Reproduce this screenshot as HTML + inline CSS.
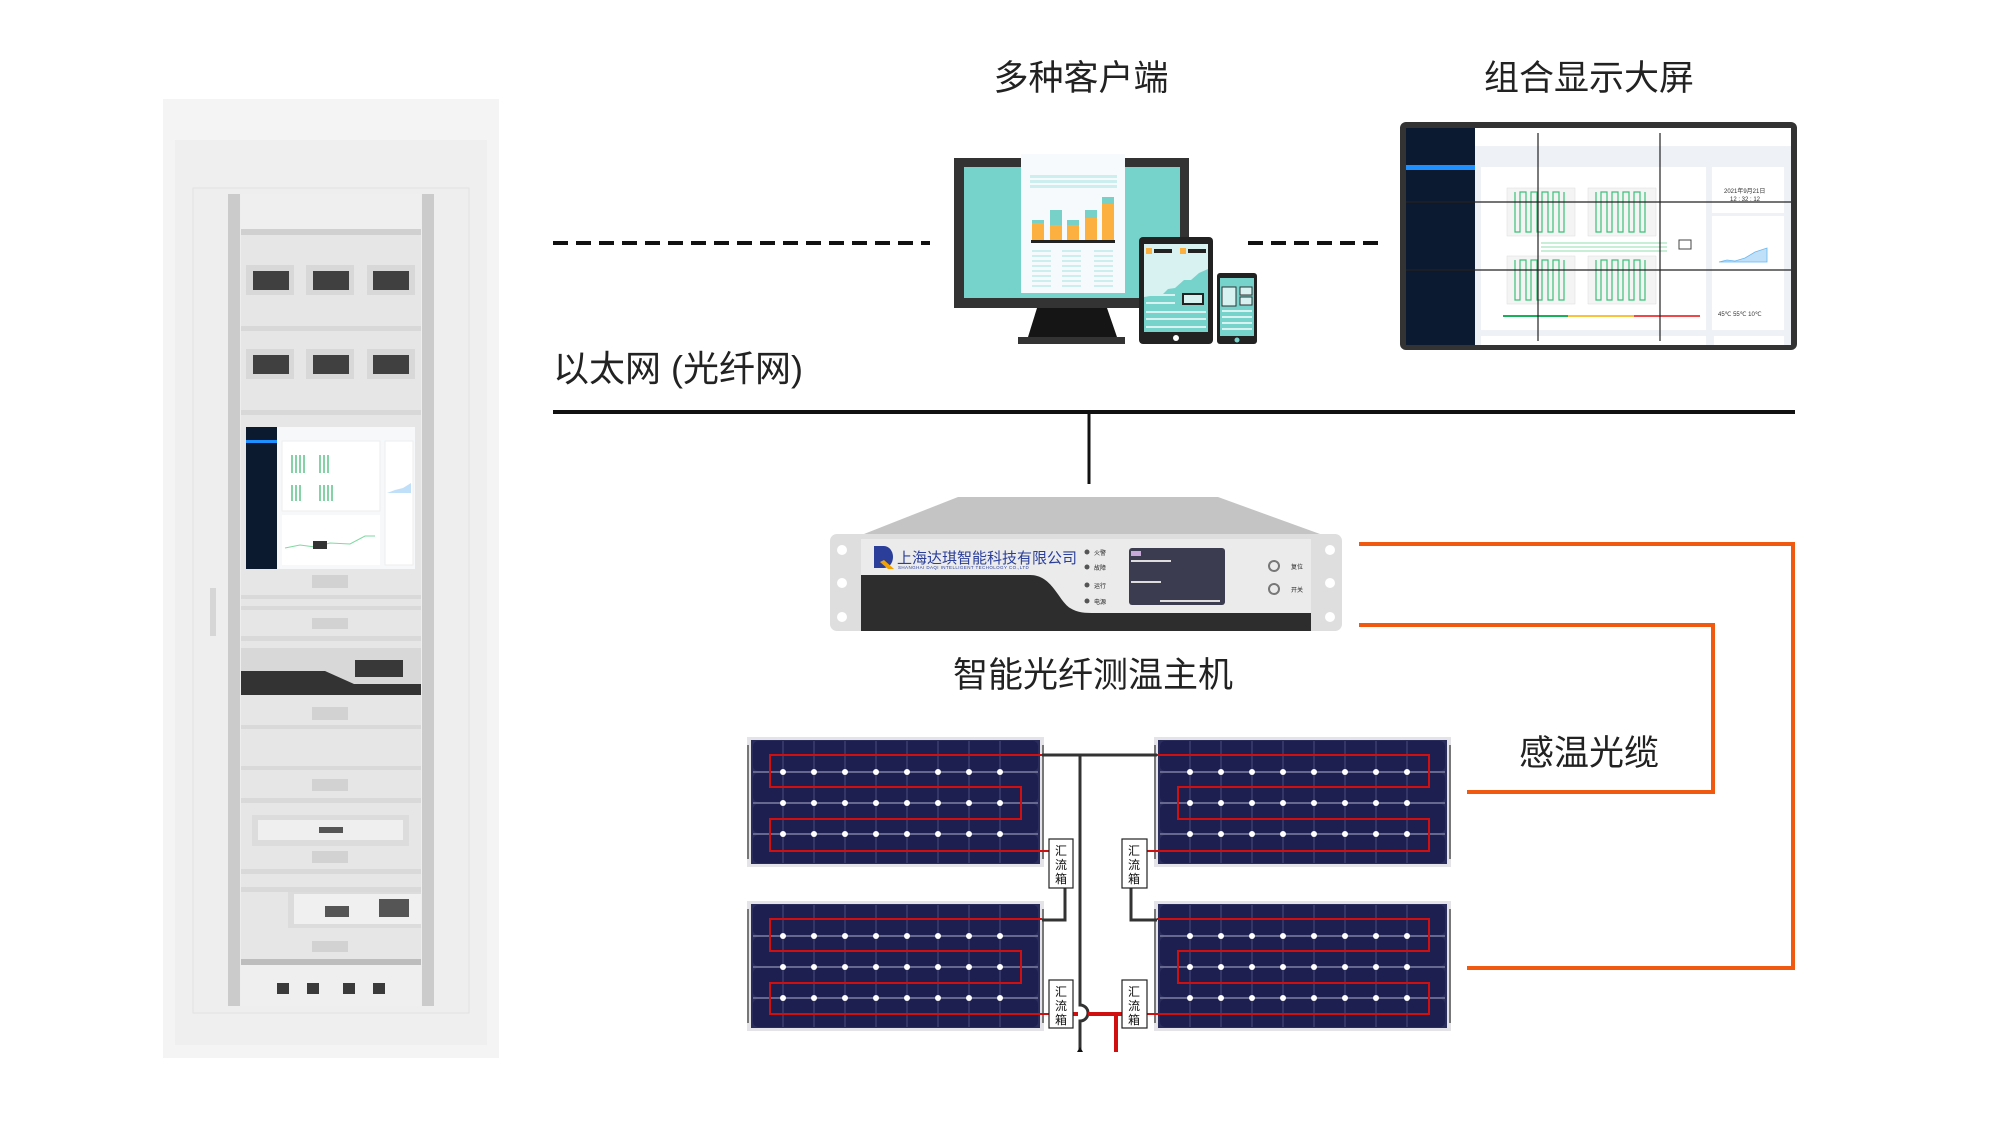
<!DOCTYPE html>
<html><head><meta charset="utf-8"><style>
body{margin:0;width:2000px;height:1125px;background:#fff;overflow:hidden;position:relative;font-family:"Liberation Sans","Noto Sans CJK SC",sans-serif}
.t{position:absolute;font-size:35px;color:#222;white-space:nowrap;transform:translateX(-50%);line-height:1}
</style></head><body>
<svg width="2000" height="1125" style="position:absolute;left:0;top:0" xmlns="http://www.w3.org/2000/svg">
<defs>
<symbol id="pv" viewBox="0 0 297 130">
 <rect x="0" y="0" width="297" height="130" fill="#e4e4e8"/>
 <rect x="4" y="3" width="289" height="124" fill="#2a2d5c"/>
 <g fill="#1c1f4f">
  <rect x="6" y="4" width="285" height="30" rx="5"/>
  <rect x="6" y="36" width="285" height="29" rx="5"/>
  <rect x="6" y="67" width="285" height="29" rx="5"/>
  <rect x="6" y="98" width="285" height="28" rx="5"/>
 </g>
 <g stroke="#4a4e7c" stroke-width="1">
  <path d="M36 4V126M67 4V126M98 4V126M129 4V126M160 4V126M191 4V126M222 4V126M253 4V126"/>
 </g>
 <g stroke="#8a8db0" stroke-width="1.2">
  <path d="M6 35H291M6 66H291M6 97H291"/>
 </g>
 <g fill="#fff">
  <circle cx="36" cy="35" r="3"/><circle cx="67" cy="35" r="3"/><circle cx="98" cy="35" r="3"/><circle cx="129" cy="35" r="3"/><circle cx="160" cy="35" r="3"/><circle cx="191" cy="35" r="3"/><circle cx="222" cy="35" r="3"/><circle cx="253" cy="35" r="3"/>
  <circle cx="36" cy="66" r="3"/><circle cx="67" cy="66" r="3"/><circle cx="98" cy="66" r="3"/><circle cx="129" cy="66" r="3"/><circle cx="160" cy="66" r="3"/><circle cx="191" cy="66" r="3"/><circle cx="222" cy="66" r="3"/><circle cx="253" cy="66" r="3"/>
  <circle cx="36" cy="97" r="3"/><circle cx="67" cy="97" r="3"/><circle cx="98" cy="97" r="3"/><circle cx="129" cy="97" r="3"/><circle cx="160" cy="97" r="3"/><circle cx="191" cy="97" r="3"/><circle cx="222" cy="97" r="3"/><circle cx="253" cy="97" r="3"/>
 </g>
 <rect x="0" y="8" width="2" height="114" fill="#777"/><rect x="295" y="8" width="2" height="114" fill="#777"/>
</symbol>
</defs>

<!-- rack -->
<rect x="163" y="99" width="336" height="959" fill="#f4f4f4"/>
<rect x="175" y="140" width="312" height="905" fill="#efefef"/>
<rect x="193" y="188" width="276" height="825" fill="#eeeeee" stroke="#e2e2e2"/>
<rect x="241" y="194" width="180" height="812" fill="#e6e6e6"/>
<rect x="228" y="194" width="12" height="812" fill="#cbcbcb"/>
<rect x="422" y="194" width="12" height="812" fill="#cbcbcb"/>
<rect x="241" y="194" width="180" height="35" fill="#efefef"/>
<rect x="241" y="229" width="180" height="6" fill="#d0d0d0"/>
<rect x="241" y="326" width="180" height="5" fill="#d8d8d8"/>
<rect x="241" y="410" width="180" height="5" fill="#d8d8d8"/>
<g fill="#d8d8d8"><rect x="246" y="265" width="48" height="30"/><rect x="306" y="265" width="48" height="30"/><rect x="367" y="265" width="48" height="30"/>
<rect x="246" y="349" width="48" height="30"/><rect x="306" y="349" width="48" height="30"/><rect x="367" y="349" width="48" height="30"/></g>
<g fill="#404040"><rect x="253" y="271" width="36" height="19"/><rect x="313" y="271" width="36" height="19"/><rect x="373" y="271" width="36" height="19"/>
<rect x="253" y="355" width="36" height="19"/><rect x="313" y="355" width="36" height="19"/><rect x="373" y="355" width="36" height="19"/></g>
<rect x="246" y="427" width="169" height="142" fill="#f6f8fa"/>
<rect x="246" y="427" width="31" height="142" fill="#0c1a30"/>
<rect x="246" y="440" width="31" height="3" fill="#1e90ff"/>
<rect x="282" y="441" width="98" height="70" fill="#fff" stroke="#eee"/>
<g stroke="#5fc38a" stroke-width="1.5" fill="none"><path d="M292 455v18M296 455v18M300 455v18M304 455v18M320 455v18M324 455v18M328 455v18M292 485v16M296 485v16M300 485v16M320 485v16M324 485v16M328 485v16M332 485v16"/></g>
<rect x="282" y="515" width="98" height="50" fill="#fff"/>
<path d="M285 548l15 -3 15 2 15 -4 20 1 15 -8 10 0" stroke="#7fd9a0" fill="none"/>
<rect x="313" y="541" width="14" height="8" fill="#333"/>
<rect x="385" y="441" width="28" height="124" fill="#fff" stroke="#eee"/>
<path d="M387 493l8-3 8-2 8-5v10h-24z" fill="#bfe0f8"/>
<g fill="#d2d2d2"><rect x="312" y="575" width="36" height="13"/><rect x="312" y="618" width="36" height="11"/><rect x="312" y="707" width="36" height="13"/><rect x="312" y="779" width="36" height="12"/><rect x="312" y="851" width="36" height="12"/><rect x="312" y="941" width="36" height="11"/></g>
<g fill="#d9d9d9"><rect x="241" y="595" width="180" height="4"/><rect x="241" y="606" width="180" height="4"/><rect x="241" y="636" width="180" height="5"/><rect x="241" y="725" width="180" height="4"/><rect x="241" y="766" width="180" height="4"/><rect x="241" y="798" width="180" height="5"/><rect x="241" y="869" width="180" height="5"/><rect x="241" y="887" width="180" height="5"/></g>
<rect x="241" y="648" width="180" height="47" fill="#d8d8d8"/>
<path d="M241 671H325L354 684H421V695H241Z" fill="#333"/>
<rect x="355" y="660" width="48" height="17" fill="#383838"/>
<rect x="252" y="815" width="157" height="31" fill="#dcdcdc"/><rect x="258" y="820" width="145" height="20" fill="#efefef"/>
<rect x="319" y="827" width="24" height="6" fill="#555"/>
<rect x="288" y="892" width="133" height="36" fill="#dcdcdc"/><rect x="294" y="894" width="127" height="30" fill="#f0f0f0"/>
<rect x="325" y="906" width="24" height="11" fill="#555"/><rect x="379" y="899" width="30" height="18" fill="#555"/>
<rect x="241" y="959" width="180" height="6" fill="#bdbdbd"/>
<rect x="241" y="965" width="180" height="41" fill="#efefef"/>
<g fill="#3a3a3a"><rect x="277" y="983" width="12" height="11"/><rect x="307" y="983" width="12" height="11"/><rect x="343" y="983" width="12" height="11"/><rect x="373" y="983" width="12" height="11"/></g>
<rect x="210" y="588" width="6" height="48" fill="#d6d6d6"/>

<!-- network lines -->
<line x1="553" y1="243" x2="930" y2="243" stroke="#111" stroke-width="4" stroke-dasharray="15 8"/>
<line x1="1248" y1="243" x2="1384" y2="243" stroke="#111" stroke-width="4" stroke-dasharray="15 8"/>
<line x1="553" y1="412" x2="1795" y2="412" stroke="#111" stroke-width="4"/>
<line x1="1089" y1="412" x2="1089" y2="484" stroke="#111" stroke-width="3"/>

<!-- monitor -->
<rect x="954" y="158" width="235" height="150" fill="#333"/>
<rect x="964" y="167" width="216" height="131" fill="#76d3cb"/>
<rect x="1021" y="154" width="104" height="139" fill="#f6fafd"/>
<g fill="#cdeeee"><rect x="1030" y="175" width="87" height="3"/><rect x="1030" y="180" width="87" height="3"/><rect x="1030" y="185" width="87" height="3"/></g>
<g fill="#78d1c9"><rect x="1032" y="220" width="12" height="20"/><rect x="1050" y="210" width="12" height="30"/><rect x="1067" y="220" width="12" height="20"/><rect x="1085" y="210" width="12" height="30"/><rect x="1102" y="197" width="12" height="43"/></g>
<g fill="#fbb040"><rect x="1032" y="223" width="12" height="17"/><rect x="1050" y="225" width="12" height="15"/><rect x="1067" y="225" width="12" height="15"/><rect x="1085" y="218" width="12" height="22"/><rect x="1102" y="204" width="12" height="36"/></g>
<rect x="1031" y="240" width="84" height="3" fill="#222"/>
<g stroke="#cdeeee" stroke-width="2"><path d="M1032 251h19M1062 251h19M1094 251h19M1032 256h19M1062 256h19M1094 256h19M1032 261h19M1062 261h19M1094 261h19M1032 266h19M1062 266h19M1094 266h19M1032 271h19M1062 271h19M1094 271h19M1032 276h19M1062 276h19M1094 276h19M1032 281h19M1062 281h19M1094 281h19M1032 286h19M1062 286h19M1094 286h19"/></g>
<path d="M1037 308H1107L1117 337H1028Z" fill="#151515"/>
<rect x="1018" y="337" width="107" height="7" fill="#333"/>
<rect x="1139" y="237" width="74" height="107" rx="4" fill="#222"/>
<rect x="1144" y="244" width="64" height="88" fill="#76d3cb"/>
<path d="M1144 244h64v25l-9 4-8 7-7 0-9 8-7 1-6 6-6 0-12 2z" fill="#d8f2f2"/>
<rect x="1146" y="248" width="6" height="6" fill="#fbb040"/><rect x="1154" y="249" width="18" height="4" fill="#222"/>
<rect x="1180" y="248" width="6" height="6" fill="#fbb040"/><rect x="1188" y="249" width="18" height="4" fill="#222"/>
<rect x="1182" y="293" width="22" height="12" fill="#222"/><rect x="1184" y="295" width="18" height="8" fill="#d8f2f2"/>
<g fill="#d8f2f2"><rect x="1146" y="294" width="29" height="2"/><rect x="1146" y="302" width="29" height="2"/><rect x="1146" y="311" width="60" height="2"/><rect x="1146" y="318" width="60" height="2"/><rect x="1146" y="326" width="60" height="2"/></g>
<circle cx="1176" cy="338" r="3" fill="#fff"/>
<rect x="1217" y="273" width="40" height="71" rx="3" fill="#222"/>
<rect x="1220" y="278" width="34" height="58" fill="#76d3cb"/>
<rect x="1222" y="287" width="14" height="19" fill="#d8f2f2" stroke="#333"/><rect x="1240" y="287" width="12" height="8" fill="#d8f2f2" stroke="#333"/><rect x="1240" y="297" width="12" height="8" fill="#d8f2f2" stroke="#333"/>
<g fill="#d8f2f2"><rect x="1222" y="310" width="30" height="2"/><rect x="1222" y="316" width="30" height="2"/><rect x="1222" y="322" width="30" height="2"/><rect x="1222" y="328" width="30" height="2"/></g>
<circle cx="1237" cy="340" r="2.5" fill="#76d3cb"/>

<!-- big screen -->
<rect x="1400" y="122" width="397" height="228" rx="6" fill="#333"/>
<rect x="1406" y="128" width="385" height="217" fill="#eef1f5"/>
<rect x="1406" y="128" width="69" height="217" fill="#0b1a30"/>
<rect x="1406" y="165" width="69" height="5" fill="#1e90ff"/>
<rect x="1475" y="128" width="316" height="18" fill="#fff"/>
<rect x="1481" y="167" width="225" height="163" fill="#fff"/>
<rect x="1712" y="167" width="72" height="46" fill="#fff"/>
<rect x="1712" y="216" width="72" height="114" fill="#fff"/>
<rect x="1481" y="336" width="225" height="9" fill="#fff"/><rect x="1714" y="336" width="70" height="9" fill="#fff"/>
<g fill="#f4f4f4" stroke="#ddd" stroke-width="0.5"><rect x="1507" y="188" width="68" height="48"/><rect x="1588" y="188" width="68" height="48"/><rect x="1507" y="256" width="68" height="48"/><rect x="1588" y="256" width="68" height="48"/></g>
<g stroke="#3bc07a" stroke-width="1.2" fill="none">
<path d="M1515 192v40h5v-40h6v40h5v-40h6v40h5v-40h6v40h5v-40h6v40h5v-40M1596 192v40h5v-40h6v40h5v-40h6v40h5v-40h6v40h5v-40h6v40h5v-40M1515 260v40h5v-40h6v40h5v-40h6v40h5v-40h6v40h5v-40h6v40h5v-40M1596 260v40h5v-40h6v40h5v-40h6v40h5v-40h6v40h5v-40h6v40h5v-40"/>
<path d="M1541 243h126M1541 247h126M1541 251h126" stroke="#a6e3c0"/></g>
<rect x="1679" y="240" width="12" height="9" fill="none" stroke="#444"/>
<rect x="1503" y="315" width="65" height="2" fill="#18b05a"/><rect x="1568" y="315" width="66" height="2" fill="#f9c23c"/><rect x="1634" y="315" width="66" height="2" fill="#f04848"/>
<text x="1724" y="193" font-size="6" fill="#333" font-family="Liberation Sans,Noto Sans CJK SC,sans-serif">2021年9月21日</text>
<text x="1730" y="201" font-size="6" fill="#333" font-family="Liberation Sans,sans-serif">12 : 32 : 12</text>
<path d="M1719 262l8-2 8 1 10-3 10-6 12-4v14h-48z" fill="#bfe0f8" stroke="#6ab8f0" stroke-width="0.8"/>
<text x="1718" y="316" font-size="6" fill="#333" font-family="Liberation Sans,sans-serif">45℃  55℃  10℃</text>
<g stroke="#222" stroke-width="1.2"><line x1="1538" y1="133" x2="1538" y2="341"/><line x1="1660" y1="133" x2="1660" y2="341"/><line x1="1406" y1="202" x2="1791" y2="202"/><line x1="1406" y1="270" x2="1791" y2="270"/></g>

<!-- device -->
<path d="M958 497H1218L1320 534H864Z" fill="#c4c4c4"/>
<rect x="830" y="534" width="512" height="97" rx="7" fill="#dedede"/>
<rect x="861" y="539" width="450" height="92" fill="#ebebeb"/>
<path d="M861 575H1030C1052 575 1058 600 1070 608C1078 613 1085 613 1095 613H1311V631H861Z" fill="#2d2d2d"/>
<g fill="#fff"><circle cx="842" cy="550" r="5"/><circle cx="842" cy="583" r="5"/><circle cx="842" cy="617" r="5"/><circle cx="1330" cy="550" r="5"/><circle cx="1330" cy="583" r="5"/><circle cx="1330" cy="617" r="5"/></g>
<path d="M874 546h10a9 11 0 0 1 0 22h-10z" fill="#2a3e9a"/><path d="M884 560l10 9h-6l-8-7z" fill="#f2a100"/>
<text x="897" y="563" font-size="15" fill="#2a3e9a" font-family="Liberation Sans,Noto Sans CJK SC,sans-serif">上海达琪智能科技有限公司</text>
<text x="898" y="569" font-size="4.5" fill="#2a3e9a" font-family="Liberation Sans,sans-serif" letter-spacing="0.4">SHANGHAI DAQI INTELLIGENT TECHOLOGY CO.,LTD</text>
<g fill="#555"><circle cx="1087" cy="552" r="2.5"/><circle cx="1087" cy="567" r="2.5"/><circle cx="1087" cy="585" r="2.5"/><circle cx="1087" cy="601" r="2.5"/></g>
<g font-size="6" fill="#222" font-family="Liberation Sans,Noto Sans CJK SC,sans-serif"><text x="1094" y="555">火警</text><text x="1094" y="570">故障</text><text x="1094" y="588">运行</text><text x="1094" y="604">电源</text><text x="1291" y="569">复位</text><text x="1291" y="592">开关</text></g>
<rect x="1129" y="548" width="96" height="57" rx="3" fill="#3b3c50"/>
<rect x="1131" y="551" width="10" height="5" fill="#c8a8d8"/>
<g fill="#ddd"><rect x="1131" y="560" width="40" height="2"/><rect x="1131" y="581" width="30" height="2"/><rect x="1160" y="600" width="60" height="2"/></g>
<g fill="none" stroke="#777" stroke-width="2"><circle cx="1274" cy="566" r="5"/><circle cx="1274" cy="589" r="5"/></g>

<!-- orange cables -->
<polyline points="1359,544 1793,544 1793,968 1467,968" fill="none" stroke="#f05a10" stroke-width="4"/>
<polyline points="1359,625 1713,625 1713,792 1467,792" fill="none" stroke="#f05a10" stroke-width="4"/>

<!-- panels -->
<use href="#pv" x="747" y="737" width="297" height="130"/>
<use href="#pv" x="1154" y="737" width="297" height="130"/>
<use href="#pv" x="747" y="901" width="297" height="130"/>
<use href="#pv" x="1154" y="901" width="297" height="130"/>
<g fill="none" stroke="#d01010" stroke-width="2">
<polyline points="1042,755 770,755 770,787 1021,787 1021,819 770,819 770,851 1049,851"/>
<polyline points="1157,755 1429,755 1429,787 1178,787 1178,819 1429,819 1429,851 1147,851"/>
<polyline points="1042,919 770,919 770,951 1021,951 1021,983 770,983 770,1014 1049,1014"/>
<polyline points="1157,919 1429,919 1429,951 1178,951 1178,983 1429,983 1429,1014 1147,1014"/>
</g>
<g fill="none" stroke="#333" stroke-width="3">
<polyline points="1042,755 1157,755"/>
<path d="M1080 755V1005A8 8 0 0 1 1080 1021V1050"/>
<polyline points="1065,888 1065,920 1042,920"/>
<polyline points="1131,888 1131,920 1157,920"/>
</g>
<path d="M1073 1014H1078M1088 1014H1122M1116 1014V1052" stroke="#d01010" stroke-width="4" fill="none"/>
<polygon points="1077,1052 1083,1052 1080,1047" fill="#111"/>
<g fill="#fff" stroke="#222" stroke-width="1.2"><rect x="1049" y="839" width="24" height="49"/><rect x="1122" y="839" width="25" height="49"/><rect x="1049" y="980" width="24" height="48"/><rect x="1122" y="980" width="25" height="48"/></g>
<g font-size="12" fill="#111" font-family="Liberation Sans,Noto Sans CJK SC,sans-serif" text-anchor="middle">
<text x="1061" y="855">汇</text><text x="1061" y="869">流</text><text x="1061" y="883">箱</text>
<text x="1134" y="855">汇</text><text x="1134" y="869">流</text><text x="1134" y="883">箱</text>
<text x="1061" y="996">汇</text><text x="1061" y="1010">流</text><text x="1061" y="1024">箱</text>
<text x="1134" y="996">汇</text><text x="1134" y="1010">流</text><text x="1134" y="1024">箱</text>
</g>
</svg>
<div class="t" style="left:1081px;top:61px">多种客户端</div>
<div class="t" style="left:1589px;top:61px">组合显示大屏</div>
<div class="t" style="left:553px;top:351px;transform:none;font-size:36px">以太网 (光纤网)</div>
<div class="t" style="left:1093px;top:658px">智能光纤测温主机</div>
<div class="t" style="left:1589px;top:736px">感温光缆</div>
</body></html>
